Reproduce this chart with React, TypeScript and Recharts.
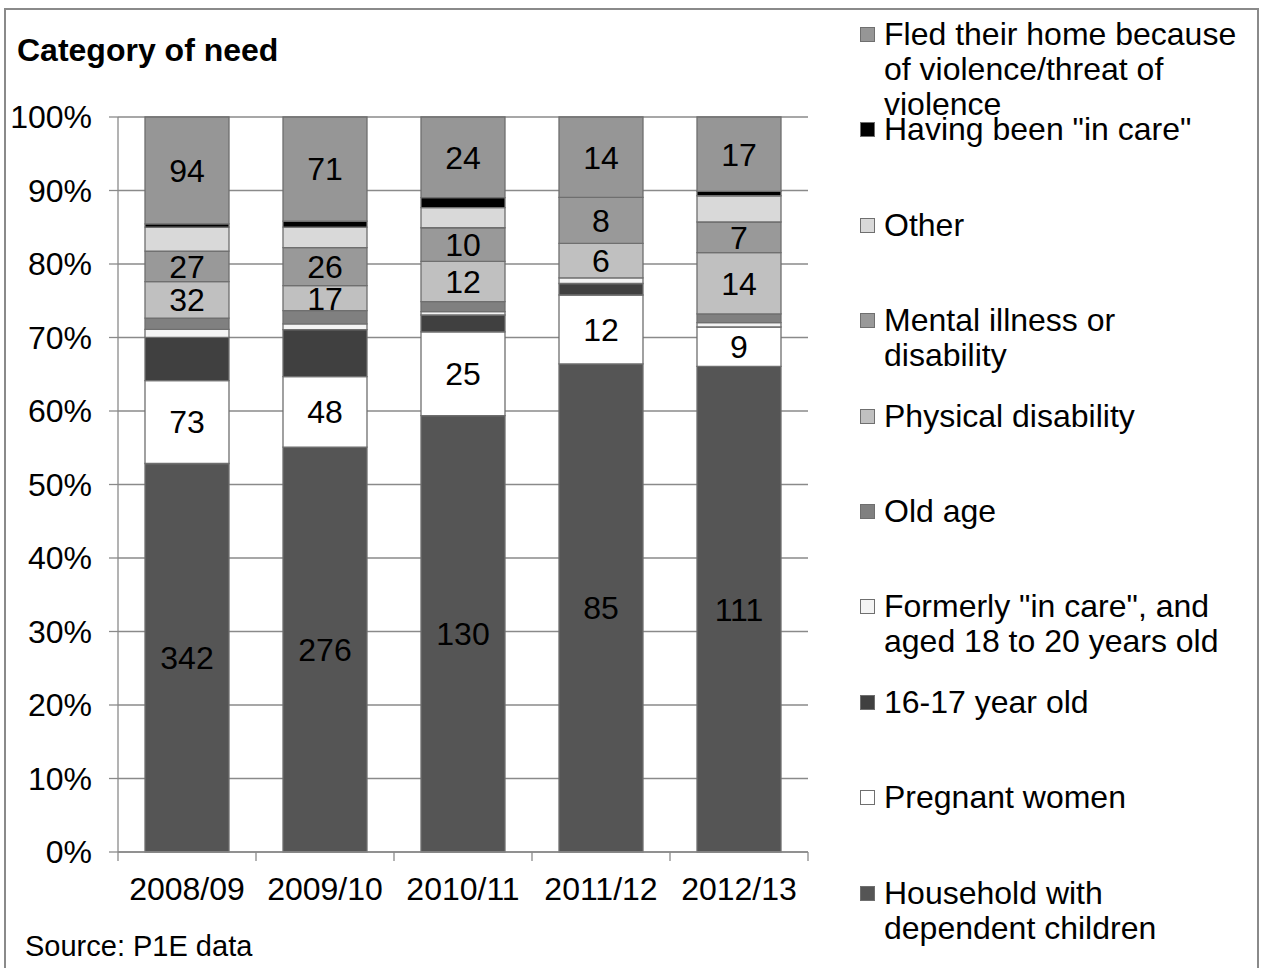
import { BarChart, Bar, XAxis, YAxis, CartesianGrid, LabelList, Legend } from 'recharts'

const FONT = '"Liberation Sans", Arial, Helvetica, sans-serif'
const TEXT_SIZE = 32

const years = ['2008/09', '2009/10', '2010/11', '2011/12', '2012/13']

// households accepted, split by category of need
const householdWithChildren = [342, 276, 130, 85, 111]
const pregnantWomen = [73, 48, 25, 12, 9]
const aged16to17 = [38, 32, 5, 2, 0]
const formerlyInCare = [7, 4, 1, 1, 1]
const oldAge = [10, 9, 3, 0, 2]
const physicalDisability = [32, 17, 12, 6, 14]
const mentalIllness = [27, 26, 10, 8, 7]
const otherNeed = [21, 14, 6, 0, 6]
const beenInCare = [3, 4, 3, 0, 1]
const fledViolence = [94, 71, 24, 14, 17]

const yTicks = [0, 0.1, 0.2, 0.3, 0.4, 0.5, 0.6, 0.7, 0.8, 0.9, 1]

type Series = {
  key: string
  name: string
  color: string
  values: number[]
  labelled: boolean
}

// stacking order, bottom first
const series: Series[] = [
  { key: 'household', name: 'Household with\ndependent children', color: '#555555', values: householdWithChildren, labelled: true },
  { key: 'pregnant', name: 'Pregnant women', color: '#ffffff', values: pregnantWomen, labelled: true },
  { key: 'age1617', name: '16-17 year old', color: '#404040', values: aged16to17, labelled: false },
  { key: 'formerlyCare', name: 'Formerly "in care", and\naged 18 to 20 years old', color: '#f4f4f4', values: formerlyInCare, labelled: false },
  { key: 'oldAge', name: 'Old age', color: '#808080', values: oldAge, labelled: false },
  { key: 'physical', name: 'Physical disability', color: '#c0c0c0', values: physicalDisability, labelled: true },
  { key: 'mental', name: 'Mental illness or\ndisability', color: '#999999', values: mentalIllness, labelled: true },
  { key: 'other', name: 'Other', color: '#d9d9d9', values: otherNeed, labelled: false },
  { key: 'inCare', name: 'Having been "in care"', color: '#000000', values: beenInCare, labelled: false },
  { key: 'fled', name: 'Fled their home because\nof violence/threat of\nviolence', color: '#969696', values: fledViolence, labelled: true },
]

const data = years.map((year, i) => {
  const row: Record<string, string | number> = { year }
  series.forEach(s => {
    row[s.key] = s.values[i]
  })
  return row
})

const GRID = '#8a8a8a'

function YearTick(props: any) {
  const { x, y, payload, index, visibleTicksCount } = props
  const half = payload?.offset ?? 69
  const last = index === visibleTicksCount - 1
  return (
    <g>
      <line x1={x - half} y1={y} x2={x - half} y2={y + 9} stroke={GRID} strokeWidth={1.3} />
      {last && <line x1={x + half} y1={y} x2={x + half} y2={y + 9} stroke={GRID} strokeWidth={1.3} />}
      <text x={x} y={y + 48} textAnchor='middle' fontSize={TEXT_SIZE} fill='#000'>
        {payload.value}
      </text>
    </g>
  )
}

function CategoryLegend() {
  const entries = [...series].reverse()
  return (
    <div style={{ position: 'relative', width: 400, height: 950, fontFamily: FONT }}>
      {entries.map((s, i) => (
        <div key={s.key} style={{ position: 'absolute', left: 0, top: i * 95.4 }}>
          <div
            style={{
              position: 'absolute',
              left: 0,
              top: 10,
              width: 13,
              height: 13,
              background: s.color,
              border: '1px solid #6f6f6f',
            }}
          />
          <div
            style={{
              position: 'absolute',
              left: 24,
              top: 0,
              whiteSpace: 'pre',
              fontSize: TEXT_SIZE,
              lineHeight: '35px',
              color: '#000',
            }}
          >
            {s.name}
          </div>
        </div>
      ))}
    </div>
  )
}

export default function App() {
  return (
    <div
      style={{
        position: 'absolute',
        left: 0,
        top: 0,
        width: 1264,
        height: 968,
        overflow: 'hidden',
        background: '#fff',
        fontFamily: FONT,
      }}
    >
      <BarChart
        width={1264}
        height={968}
        data={data}
        stackOffset='expand'
        margin={{ top: 117, right: 456, bottom: 0, left: 0 }}
      >
        <CartesianGrid vertical={false} stroke={GRID} strokeWidth={1.3} />
        <XAxis
          dataKey='year'
          height={116}
          tickSize={0}
          tickMargin={0}
          tickLine={false}
          axisLine={{ stroke: GRID, strokeWidth: 1.3 }}
          tick={<YearTick />}
          interval={0}
        />
        <YAxis
          type='number'
          domain={[0, 1]}
          ticks={yTicks}
          width={118}
          tickSize={9}
          tickMargin={17}
          stroke={GRID}
          tickLine={{ stroke: GRID, strokeWidth: 1.3 }}
          axisLine={{ stroke: GRID, strokeWidth: 1.3 }}
          tick={{ fill: '#000', fontSize: TEXT_SIZE }}
          tickFormatter={(v: number) => `${Math.round(v * 100)}%`}
        />
        <Legend
          layout='vertical'
          align='center'
          verticalAlign='middle'
          wrapperStyle={{ left: 860, top: 17, width: 400, height: 950 }}
          content={() => <CategoryLegend />}
        />
        {series.map(s => (
          <Bar
            key={s.key}
            dataKey={s.key}
            name={s.name}
            stackId='need'
            fill={s.color}
            stroke='#6f6f6f'
            strokeWidth={1.3}
            barSize={84}
            isAnimationActive={false}
          >
            {s.labelled && (
              <LabelList
                dataKey={s.key}
                position='center'
                fill='#000'
                stroke='none'
                fontSize={TEXT_SIZE}
              />
            )}
          </Bar>
        ))}
      </BarChart>
      <svg
        width={1264}
        height={968}
        style={{ position: 'absolute', left: 0, top: 0, pointerEvents: 'none' }}
      >
        <rect x={5} y={9} width={1253} height={1000} fill='none' stroke={GRID} strokeWidth={2} />
        <text x={17} y={61} fontSize={TEXT_SIZE} fontWeight='bold' fill='#000'>
          Category of need
        </text>
        <text x={25} y={956} fontSize={29} fill='#000'>
          Source: P1E data
        </text>
      </svg>
    </div>
  )
}
